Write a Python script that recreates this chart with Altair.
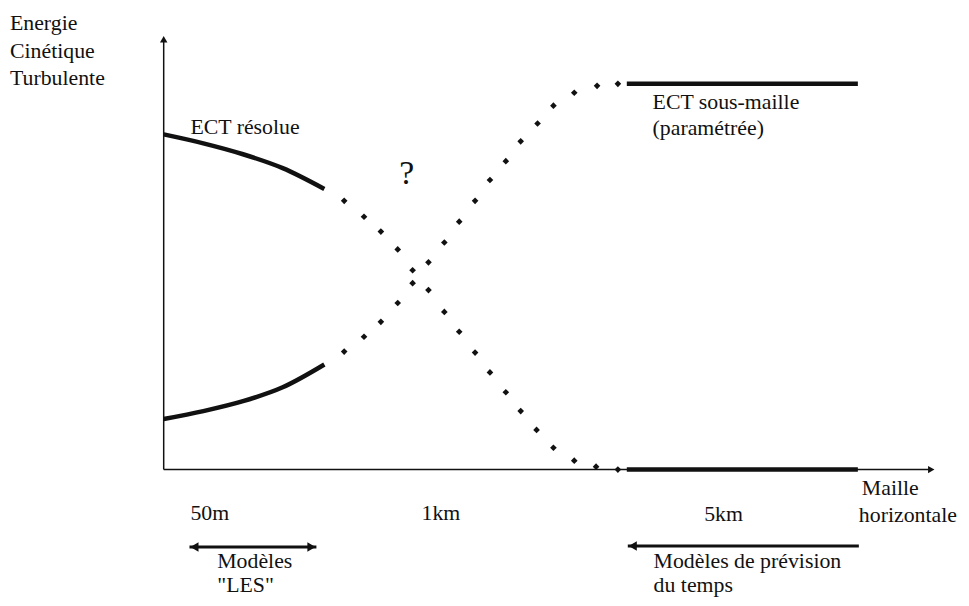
import altair as alt
import pandas as pd

# ---- data (schematic units: x = grid-size axis, y = TKE axis) ----
solid_res_x = [0, 40, 80, 120, 162]
solid_res_y = [338, 329, 318, 304, 283]
solid_low_x = [0, 40, 80, 120, 162]
solid_low_y = [51, 59, 69, 83, 106]

dots_down_x = [182, 202, 219, 236, 251, 267, 283, 298, 314, 329, 345, 360, 376, 393, 414, 436, 458]
dots_down_y = [271, 255, 240, 222, 201, 181, 159, 139, 118, 98, 78, 59, 40, 22, 9, 3, 0]
dots_up_x = [182, 202, 219, 236, 251, 267, 283, 298, 314, 329, 345, 360, 377, 393, 414, 437, 458]
dots_up_y = [119, 134, 149, 168, 188, 209, 229, 250, 271, 292, 311, 331, 349, 367, 380, 387, 389]

plateau_x = [467, 700]
plateau_hi = [389, 389]
plateau_lo = [0, 0]

label_text = ["Energie", "Cinétique", "Turbulente", "ECT résolue",
              "ECT sous-maille", "(paramétrée)", "Maille", "horizontale",
              "50m", "1km", "5km", "Modèles", "\"LES\"",
              "Modèles de prévision", "du temps"]
label_x = [-155, -155, -155, 27, 493, 493, 704, 701, 27, 260, 545, 54, 54, 494, 494]
label_y = [443, 415, 388, 338, 364, 337, -26, -53, -51, -51, -52, -99, -123, -99, -123]

q_text = ["?"]
q_x = [245]
q_y = [288]

# axes and arrows
axis_x = [0, 0]
axis_y = [0, 0]
axis_x2 = [0, 773]
axis_y2 = [433, 0]
head_x = [0, 774]
head_y = [434, 0]
head_shape = ["triangle-up", "triangle-right"]

arr_x = [26, 468]
arr_x2 = [154, 701]
arr_y = [-78, -77]
arrhead_x = [31, 149, 473]
arrhead_y = [-78, -78, -77]
arrhead_shape = ["triangle-left", "triangle-right", "triangle-left"]

# ---- scales ----
W, H = 961, 590
XDOM = [-157, W - 157]
YDOM = [-127, -127 + H]
INK = "#111111"
FONT = "'Liberation Serif', 'Times New Roman', 'DejaVu Serif', serif"


def X(f):
    return alt.X(f, type="quantitative", scale=alt.Scale(domain=XDOM, nice=False, zero=False), axis=None)


def Y(f):
    return alt.Y(f, type="quantitative", scale=alt.Scale(domain=YDOM, nice=False, zero=False), axis=None)


curves = pd.DataFrame({
    "x": solid_res_x + solid_low_x + plateau_x + plateau_x,
    "y": solid_res_y + solid_low_y + plateau_hi + plateau_lo,
    "s": ["a"] * len(solid_res_x) + ["b"] * len(solid_low_x) + ["c"] * 2 + ["d"] * 2,
})
dots = pd.DataFrame({"x": dots_down_x + dots_up_x, "y": dots_down_y + dots_up_y})
labels = pd.DataFrame({"x": label_x, "y": label_y, "t": label_text})
qdf = pd.DataFrame({"x": q_x, "y": q_y, "t": q_text})
axes = pd.DataFrame({"x": axis_x, "y": axis_y, "x2": axis_x2, "y2": axis_y2})
heads = pd.DataFrame({"x": head_x, "y": head_y, "shape": head_shape})
arrows = pd.DataFrame({"x": arr_x, "x2": arr_x2, "y": arr_y})
arrheads = pd.DataFrame({"x": arrhead_x, "y": arrhead_y, "shape": arrhead_shape})

axis_layer = alt.Chart(axes).mark_rule(color=INK, strokeWidth=1.5).encode(
    x=X("x"), y=Y("y"), x2="x2", y2="y2")
head_layer = alt.Chart(heads).mark_point(filled=True, size=56, color=INK, opacity=1).encode(
    x=X("x"), y=Y("y"), shape=alt.Shape("shape:N", scale=None))
curve_layer = alt.Chart(curves).mark_line(color=INK, strokeWidth=4.5, interpolate="monotone").encode(
    x=X("x"), y=Y("y"), detail="s:N")
dot_layer = alt.Chart(dots).mark_point(filled=True, shape="diamond", size=45, color=INK, opacity=1).encode(
    x=X("x"), y=Y("y"))
text_layer = alt.Chart(labels).mark_text(align="left", baseline="alphabetic", font=FONT,
                                         fontSize=22, color=INK).encode(
    x=X("x"), y=Y("y"), text="t:N")
q_layer = alt.Chart(qdf).mark_text(align="center", baseline="alphabetic", font=FONT,
                                   fontSize=34, color=INK).encode(
    x=X("x"), y=Y("y"), text="t:N")
arrow_layer = alt.Chart(arrows).mark_rule(color=INK, strokeWidth=3).encode(
    x=X("x"), x2="x2", y=Y("y"))
arrhead_layer = alt.Chart(arrheads).mark_point(filled=True, size=90, color=INK, opacity=1).encode(
    x=X("x"), y=Y("y"), shape=alt.Shape("shape:N", scale=None))

chart = alt.layer(
    axis_layer, head_layer, curve_layer, dot_layer, text_layer, q_layer, arrow_layer, arrhead_layer
).properties(
    width=W, height=H, padding=0, autosize="none", background="white"
).configure_view(stroke=None)

chart.save("out.html", embed_options={"renderer": "svg", "actions": False})
